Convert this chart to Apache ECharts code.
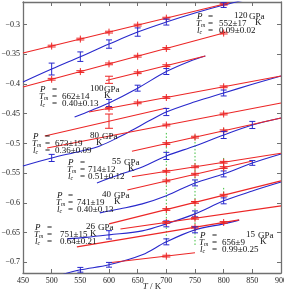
<!DOCTYPE html>
<html><head><meta charset="utf-8">
<script src="https://cdn.jsdelivr.net/npm/echarts@6/dist/echarts.min.js"></script>
<style>html,body{margin:0;padding:0;background:#fff}#c{width:284px;height:292px}</style>
</head><body><div id="c"></div>
<script>
// ---- axis ticks ----
const xTicks = [450, 500, 550, 600, 650, 700, 750, 800, 850, 900];
const yTicks = [-0.7, -0.65, -0.6, -0.55, -0.5, -0.45, -0.4, -0.35, -0.3];

// ---- 120 GPa ----
const liq120 = [[450, -0.3479], [810, -0.2633]];
const liq120Pts = [[500, -0.3362, 0.0015], [550, -0.3244, 0.0015], [600, -0.3127, 0.0015], [650, -0.3009, 0.0015], [700, -0.2892, 0.0015], [800, -0.2657, 0.0015]];
const sol120 = [[450, -0.3966], [500, -0.3748], [550, -0.3540], [600, -0.3328], [650, -0.3126], [700, -0.2958], [750, -0.2806], [800, -0.2672], [850, -0.2555]];
const sol120Err = [[500, -0.3748, 0.010], [550, -0.3540, 0.008], [600, -0.3328, 0.007], [650, -0.3126, 0.007], [700, -0.2958, 0.005], [800, -0.2672, 0.004]];
const ref120 = [[450, -0.4050], [800, -0.3143]];
const ref120Pts = [[500, -0.3920, 0.0015], [550, -0.3791, 0.0015], [600, -0.3661, 0.0015], [650, -0.3532, 0.0015], [700, -0.3402, 0.0015], [800, -0.3143, 0.0015]];

// ---- 100 GPa ----
const liq100 = [[595, -0.3941], [768, -0.3529]];
const liq100Pts = [[600, -0.3929, 0.006], [650, -0.3810, 0.0015], [700, -0.3691, 0.0015]];
const sol100 = [[540, -0.4555], [570, -0.4440], [600, -0.4319], [650, -0.4070], [700, -0.3790], [740, -0.3620], [768, -0.3529]];
const sol100Err = [[600, -0.4319, 0.006], [650, -0.4070, 0.005], [700, -0.3790, 0.005]];

// ---- 80 GPa ----
const liq80 = [[565, -0.4471], [900, -0.3866]];
const liq80Pts = [[600, -0.4408, 0.0015], [650, -0.4317, 0.0015], [700, -0.4227, 0.0015], [800, -0.4047, 0.0015]];
const sol80 = [[450, -0.5378], [500, -0.5244], [550, -0.5130], [584, -0.5042], [620, -0.4880], [641, -0.4773], [670, -0.4620], [700, -0.4471], [750, -0.4300], [800, -0.4151], [850, -0.4005], [900, -0.3866]];
const sol80Err = [[500, -0.5244, 0.006], [700, -0.4471, 0.006], [800, -0.4151, 0.005]];
const refA = [[488, -0.4874], [700, -0.4403]];
const refAPts = [[600, -0.4625, 0.012]];
const refB = [[492, -0.5076], [900, -0.4319]];
const refBPts = [[700, -0.4690, 0.0015], [800, -0.4505, 0.0015]];

// ---- 55 GPa ----
const liq55 = [[640, -0.5131], [900, -0.4571]];
const liq55Pts = [[700, -0.5002, 0.0015], [750, -0.4894, 0.0015], [800, -0.4787, 0.0015]];
const sol55 = [[579, -0.5664], [620, -0.5520], [658, -0.5395], [700, -0.5210], [750, -0.5042], [800, -0.4857], [850, -0.4689], [900, -0.4571]];
const sol55Err = [[700, -0.5210, 0.006], [800, -0.4857, 0.006], [850, -0.4689, 0.006]];

// ---- 40 GPa ----
const liq40 = [[640, -0.5560], [900, -0.5165]];
const liq40Pts = [[700, -0.5469, 0.0015], [750, -0.5393, 0.0015], [800, -0.5317, 0.0015]];
const sol40 = [[584, -0.6168], [620, -0.6100], [658, -0.6017], [700, -0.5880], [750, -0.5664], [800, -0.5513], [850, -0.5328], [900, -0.5176]];
const sol40Err = [[750, -0.5664, 0.005], [800, -0.5513, 0.005], [850, -0.5328, 0.004]];
const refC = [[632, -0.5782], [850, -0.5294]];
const refCPts = [[700, -0.5630, 0.0015], [750, -0.5518, 0.0015], [800, -0.5406, 0.0015]];

// ---- 26 GPa ----
const liq26 = [[600, -0.6353], [900, -0.5630]];
const liq26Pts = [[700, -0.6112, 0.0015], [750, -0.5992, 0.0015], [800, -0.5871, 0.0015]];
const sol26 = [[527, -0.6605], [560, -0.6580], [600, -0.6538], [658, -0.6471], [700, -0.6353], [750, -0.6185], [800, -0.5966], [850, -0.5800], [900, -0.5650]];
const sol26Err = [[600, -0.6538, 0.007], [700, -0.6353, 0.005], [750, -0.6185, 0.005], [800, -0.5966, 0.005]];
const refD = [[620, -0.6440], [900, -0.6050]];
const refDPts = [[700, -0.6329, 0.0015], [750, -0.6259, 0.0015]];

// ---- 15 GPa ----
const liq15 = [[544, -0.6740], [827, -0.6286]];
const liq15Pts = [[750, -0.6410, 0.0015], [800, -0.6330, 0.0015]];
const sol15 = [[520, -0.7200], [550, -0.7126], [600, -0.7042], [658, -0.6874], [700, -0.6656], [750, -0.6454], [800, -0.6353], [827, -0.6290]];
const sol15Err = [[550, -0.7126, 0.004], [600, -0.7042, 0.004], [700, -0.6656, 0.005], [750, -0.6454, 0.005]];
const refE = [[600, -0.7008], [750, -0.6840]];
const refEPts = [[700, -0.6896, 0.0015]];

// ---- green dotted bars: [T, top, bottom] ----
const greenBars = [[700, -0.4823, -0.6673], [750, -0.4857, -0.6723], [800, -0.4740, -0.4890], [800, -0.5244, -0.5479], [800, -0.5748, -0.5899]];

// ---- annotations ----
const annP = ['120', '100', '80', '55', '40', '26', '15'];
const annTm = ['552±17', '662±14', '673±19', '714±12', '741±19', '751±15', '656±9'];
const annLc = ['0.09±0.02', '0.40±0.13', '0.36±0.09', '0.51±0.12', '0.40±0.13', '0.64±0.21', '0.99±0.25'];

// layout (pixels): x0 label col, xe '=', xv value, xn pressure number, xu unit GPa, xk K, y0 first row
const annLayout = [
  [197, 208, 219, 234, 249, 255, 17],
  [40, 52, 62, 90, 104, 104, 90],
  [33, 45, 55, 90, 102, 96, 137],
  [68, 80, 88, 112, 124, 128, 163],
  [57, 68, 77, 102, 114, 114, 196],
  [35, 47, 60, 86, 98, 90, 228],
  [200, 212, 222, 246, 258, 260, 236]
];

const RED = '#ec2626', BLUE = '#2828cc', GREEN = '#3cbf3c';
const SERIF = '"Liberation Serif", "DejaVu Serif", serif';

function lineS(data, color, smooth) {
  return { type: 'line', data, symbol: 'none', showSymbol: false, smooth: smooth ? 0.35 : false,
    lineStyle: { color, width: 1.1 }, silent: true, z: color === RED ? 4 : 3, clip: true };
}
// error bar with caps; 'plus' adds a short vertical stroke (red "+" style markers)
function errS(data, color, capW, plus) {
  return { type: 'custom', data, clip: true, silent: true, z: 5, encode: { x: 0, y: 1 },
    renderItem: (p, api) => {
      const x = api.value(0), y = api.value(1), e = api.value(2);
      const a = api.coord([x, y + e]), b = api.coord([x, y - e]), h = capW / 2;
      const st = { stroke: color, lineWidth: 1 };
      const top = plus ? Math.min(a[1], (a[1] + b[1]) / 2 - 3.5) : a[1];
      const bot = plus ? Math.max(b[1], (a[1] + b[1]) / 2 + 3.5) : b[1];
      return { type: 'group', children: [
        { type: 'line', shape: { x1: a[0], y1: top, x2: b[0], y2: bot }, style: st },
        { type: 'line', shape: { x1: a[0] - h, y1: a[1], x2: a[0] + h, y2: a[1] }, style: st },
        { type: 'line', shape: { x1: b[0] - h, y1: b[1], x2: b[0] + h, y2: b[1] }, style: st }
      ] };
    } };
}
function greenS(data) {
  return { type: 'custom', data, clip: true, silent: true, z: 2, encode: { x: 0, y: [1, 2] },
    renderItem: (p, api) => {
      const a = api.coord([api.value(0), api.value(1)]), b = api.coord([api.value(0), api.value(2)]);
      return { type: 'line', shape: { x1: a[0], y1: a[1], x2: b[0], y2: b[1] },
        style: { stroke: GREEN, lineWidth: 1, lineDash: [1.5, 2] } };
    } };
}
const redPts = d => errS(d, RED, 8, true);
const bluePts = d => errS(d, BLUE, 6, false);

const series = [
  greenS(greenBars),
  lineS(liq120, RED), redPts(liq120Pts), lineS(sol120, BLUE, true), bluePts(sol120Err),
  lineS(ref120, RED), redPts(ref120Pts),
  lineS(liq100, RED), redPts(liq100Pts), lineS(sol100, BLUE, true), bluePts(sol100Err),
  lineS(liq80, RED), redPts(liq80Pts), lineS(sol80, BLUE, true), bluePts(sol80Err),
  lineS(refA, RED), redPts(refAPts), lineS(refB, RED), redPts(refBPts),
  lineS(liq55, RED), redPts(liq55Pts), lineS(sol55, BLUE, true), bluePts(sol55Err),
  lineS(liq40, RED), redPts(liq40Pts), lineS(sol40, BLUE, true), bluePts(sol40Err),
  lineS(refC, RED), redPts(refCPts),
  lineS(liq26, RED), redPts(liq26Pts), lineS(sol26, BLUE, true), bluePts(sol26Err),
  lineS(refD, RED), redPts(refDPts),
  lineS(liq15, RED), redPts(liq15Pts), lineS(sol15, BLUE, true), bluePts(sol15Err),
  lineS(refE, RED), redPts(refEPts)
];

// annotation texts
const graphic = [];
const fnt = '9px ' + SERIF, ifnt = 'italic 9px ' + SERIF;
const rich = { i: { font: ifnt, fill: '#111' }, s: { font: 'italic 6px ' + SERIF, fill: '#111', padding: [4, 0, 0, 0] } };
function txt(text, x, y, font, useRich) {
  const style = { text, x, y, font, fill: '#111', verticalAlign: 'middle', align: 'left' };
  if (useRich) style.rich = rich;
  graphic.push({ type: 'text', silent: true, z: 10, style });
}
annLayout.forEach((L, k) => {
  const [x0, xe, xv, xn, xu, xk, y0] = L, dy = 6.6;
  txt('P', x0, y0, ifnt);
  txt('{i|T}{s|m}', x0 - 1, y0 + dy, ifnt, true);
  txt('{i|l}{s|c}', x0, y0 + 2 * dy, ifnt, true);
  txt('=', xe, y0, fnt); txt('=', xe, y0 + dy, fnt); txt('=', xe, y0 + 2 * dy, fnt);
  txt(annP[k], xn, y0 - 1.5, fnt);
  txt('GPa', xu, y0, fnt);
  txt(annTm[k], xv, y0 + dy, fnt);
  txt('K', xk, y0 + dy - 1, fnt);
  txt(annLc[k], xv, y0 + 2 * dy, fnt);
});
// x-axis title (T italic)
graphic.push({ type: 'text', silent: true, z: 10, style: { text: '{i|T} / K', x: 152, y: 287, align: 'center', verticalAlign: 'middle', font: fnt, fill: '#222', rich: { i: { font: ifnt, fill: '#222' } } } });

const axLine = { show: true, lineStyle: { color: '#707070', width: 1.3 } };
const tick = { show: true, inside: true, length: 4, lineStyle: { color: '#707070', width: 1 } };
const fmtY = v => (Math.round(v * 100) / 100).toString().replace('-', '\u2212');

const option = {
  animation: false,
  backgroundColor: '#fff',
  grid: { left: 23, right: 3, top: 2, bottom: 19, containLabel: false, outerBoundsMode: 'none' },
  xAxis: [
    { type: 'value', position: 'bottom', min: 450, max: 900, interval: 50,
      axisLine: axLine, axisTick: tick, splitLine: { show: false },
      axisLabel: { fontFamily: SERIF, fontSize: 8, color: '#222', margin: 4, showMaxLabel: true, hideOverlap: false, formatter: v => String(v) } },
    { type: 'value', position: 'top', min: 450, max: 900, interval: 50,
      axisLine: axLine, axisTick: tick, axisLabel: { show: false }, splitLine: { show: false } }
  ],
  yAxis: [
    { type: 'value', position: 'left', min: -0.718, max: -0.262,
      axisLine: axLine, axisTick: Object.assign({ customValues: yTicks }, tick), splitLine: { show: false },
      axisLabel: { customValues: yTicks, fontFamily: SERIF, fontSize: 8, color: '#222', margin: 3, hideOverlap: false, formatter: fmtY },
      name: '\u0394G / eV', nameLocation: 'middle', nameGap: 20,
      nameTextStyle: { fontFamily: SERIF, fontSize: 8, color: '#444' } },
    { type: 'value', position: 'right', min: -0.718, max: -0.262,
      axisLine: axLine, axisTick: Object.assign({ customValues: yTicks }, tick),
      axisLabel: { show: false }, splitLine: { show: false } }
  ],
  series,
  graphic
};
const chart = echarts.init(document.getElementById('c'), null, { renderer: 'canvas' });
chart.setOption(option);
</script></body></html>
